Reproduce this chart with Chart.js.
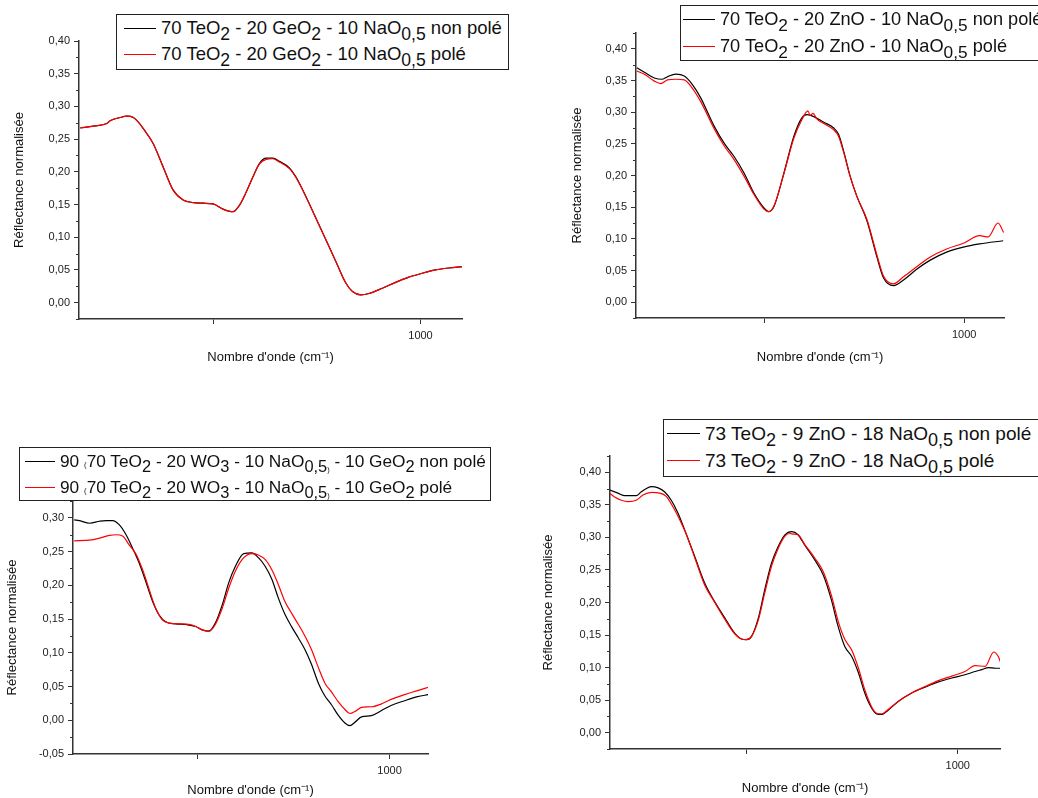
<!DOCTYPE html>
<html lang="fr">
<head>
<meta charset="utf-8">
<title>Réflectance normalisée</title>
<script src="https://cdn.jsdelivr.net/npm/chart.js@4.4.1/dist/chart.umd.min.js"></script>
<style>
  html, body { margin: 0; padding: 0; background: #fff; }
  body { width: 1038px; height: 798px; position: relative; overflow: hidden;
         font-family: "Liberation Sans", Arial, sans-serif; }
  canvas { position: absolute; }
  .legende { position: absolute; background: #fff; border: 1px solid #222; box-sizing: border-box;
             z-index: 2; color: #111; white-space: nowrap; }
  .legende .ligne { display: flex; align-items: center; }
  .legende .trait { height: 0; border-top: 1.3px solid; margin-right: 5px; flex: none; }
  .legende sub { font-size: 0.95em; vertical-align: -0.32em; line-height: 0; }
  .legende .pt { font-size: 0.45em; }
</style>
</head>
<body>
<canvas id="g1" width="480" height="380"></canvas>
<canvas id="g2" width="518" height="380"></canvas>
<canvas id="g3" width="450" height="378"></canvas>
<canvas id="g4" width="518" height="388"></canvas>
<script>
// nombres d'onde (cm-1) et réflectances
const p1Wn = [180,212,244,252,276,292,308,320,332,356,380,404,428,452,476,500,524,548,564,580,596,612,628,644,660,684,700,724,748,772,796,820,836,856,876,908,940,972,1004,1036,1068,1100];
const p1NonPole = [0.267,0.270,0.274,0.278,0.283,0.285,0.283,0.276,0.266,0.243,0.207,0.172,0.157,0.153,0.152,0.151,0.143,0.139,0.149,0.169,0.192,0.213,0.221,0.221,0.216,0.206,0.192,0.162,0.129,0.096,0.063,0.030,0.017,0.012,0.014,0.022,0.031,0.039,0.045,0.050,0.053,0.055];
const p1Pole = [0.267,0.270,0.274,0.278,0.283,0.285,0.283,0.276,0.266,0.243,0.207,0.172,0.157,0.153,0.152,0.151,0.143,0.139,0.149,0.169,0.192,0.212,0.219,0.220,0.215,0.205,0.191,0.162,0.129,0.096,0.063,0.030,0.017,0.012,0.014,0.022,0.031,0.039,0.045,0.050,0.053,0.055];

const p2WnNonPole = [179,198,223,243,256,277,298,318,339,373,398,423,448,473,498,510,523,548,573,593,606,623,648,673,685,698,714,731,756,781,798,823,848,881,914,956,998,1039,1098];
const p2NonPole = [0.370,0.363,0.354,0.352,0.356,0.360,0.357,0.344,0.323,0.278,0.251,0.230,0.204,0.172,0.149,0.143,0.151,0.204,0.262,0.291,0.296,0.293,0.284,0.275,0.265,0.238,0.199,0.167,0.129,0.072,0.038,0.026,0.035,0.052,0.066,0.079,0.087,0.092,0.097];
const p2WnPole = [179,198,223,239,256,277,298,318,339,373,398,423,448,473,498,510,523,548,573,593,608,614,621,631,648,673,685,698,714,731,756,781,798,823,848,881,914,956,998,1039,1060,1085,1099];
const p2Pole = [0.365,0.360,0.349,0.345,0.351,0.352,0.351,0.338,0.317,0.274,0.247,0.225,0.199,0.170,0.147,0.143,0.152,0.203,0.259,0.288,0.302,0.295,0.298,0.289,0.282,0.272,0.262,0.236,0.199,0.167,0.131,0.075,0.041,0.029,0.040,0.056,0.071,0.084,0.093,0.105,0.103,0.125,0.110];

const p3WnNonPole = [180,194,220,246,263,280,297,315,332,349,366,384,401,418,444,470,496,513,530,547,565,582,599,621,642,659,677,694,711,728,746,763,780,797,815,832,849,866,884,897,910,927,953,978,1004,1039,1073,1101];
const p3NonPole = [0.297,0.296,0.292,0.295,0.296,0.296,0.290,0.275,0.255,0.233,0.206,0.176,0.156,0.146,0.143,0.142,0.139,0.134,0.132,0.144,0.171,0.204,0.228,0.247,0.248,0.241,0.228,0.209,0.181,0.157,0.138,0.122,0.105,0.083,0.055,0.036,0.023,0.008,-0.004,-0.008,-0.003,0.005,0.007,0.014,0.022,0.029,0.035,0.038];
const p3WnPole = [180,220,246,272,289,306,323,341,358,375,392,409,427,453,478,496,513,530,547,565,582,599,621,642,659,677,694,711,728,746,763,780,797,815,832,849,866,884,897,910,927,953,978,1004,1039,1073,1101];
const p3Pole = [0.266,0.267,0.270,0.274,0.275,0.273,0.260,0.246,0.223,0.194,0.166,0.149,0.144,0.143,0.142,0.139,0.134,0.132,0.142,0.166,0.196,0.221,0.241,0.247,0.245,0.238,0.223,0.201,0.176,0.158,0.142,0.125,0.105,0.078,0.055,0.042,0.028,0.016,0.010,0.013,0.019,0.020,0.024,0.031,0.038,0.044,0.049];

const p4WnNonPole = [176,196,212,239,251,275,291,306,322,338,354,378,401,425,449,472,488,500,512,528,543,559,575,591,607,622,638,662,682,701,717,733,749,765,780,796,808,820,836,859,891,923,954,986,1017,1041,1057,1073,1089,1102];
const p4NonPole = [0.373,0.368,0.364,0.364,0.370,0.378,0.376,0.370,0.357,0.337,0.311,0.270,0.230,0.201,0.176,0.153,0.144,0.143,0.148,0.176,0.219,0.260,0.286,0.304,0.309,0.304,0.288,0.265,0.242,0.204,0.163,0.132,0.117,0.092,0.061,0.038,0.029,0.028,0.035,0.048,0.061,0.070,0.078,0.084,0.089,0.094,0.097,0.100,0.099,0.099];
const p4WnPole = [176,188,204,220,239,255,275,295,310,326,342,358,378,401,425,449,472,488,500,512,528,543,559,575,591,603,611,622,638,662,682,701,717,733,749,765,780,796,808,820,836,859,891,923,954,986,1017,1041,1065,1085,1096,1102];
const p4Pole = [0.368,0.362,0.357,0.355,0.357,0.365,0.369,0.368,0.363,0.347,0.327,0.304,0.268,0.227,0.200,0.174,0.152,0.144,0.143,0.148,0.173,0.214,0.255,0.283,0.302,0.306,0.305,0.304,0.289,0.268,0.247,0.211,0.171,0.143,0.127,0.099,0.066,0.040,0.030,0.029,0.036,0.048,0.061,0.071,0.080,0.087,0.094,0.103,0.102,0.124,0.117,0.107];

// légendes
const p1Legende = ['70 TeO<sub>2</sub> - 20 GeO<sub>2</sub> - 10 NaO<sub>0,5</sub> non polé',
                   '70 TeO<sub>2</sub> - 20 GeO<sub>2</sub> - 10 NaO<sub>0,5</sub> polé'];
const p2Legende = ['70 TeO<sub>2</sub> - 20 ZnO - 10 NaO<sub>0,5</sub> non polé',
                   '70 TeO<sub>2</sub> - 20 ZnO - 10 NaO<sub>0,5</sub> polé'];
const p3Legende = ['90 <span class="pt">(</span>70 TeO<sub>2</sub> - 20 WO<sub>3</sub> - 10 NaO<sub>0,5<span class="pt">)</span></sub> - 10 GeO<sub>2</sub> non polé',
                   '90 <span class="pt">(</span>70 TeO<sub>2</sub> - 20 WO<sub>3</sub> - 10 NaO<sub>0,5<span class="pt">)</span></sub> - 10 GeO<sub>2</sub> polé'];
const p4Legende = ['73 TeO<sub>2</sub> - 9 ZnO - 18 NaO<sub>0,5</sub> non polé',
                   '73 TeO<sub>2</sub> - 9 ZnO - 18 NaO<sub>0,5</sub> polé'];

const titreX = "Nombre d'onde (cm\u207B\u00B9)";
const titreY = "Réflectance normalisée";
const graduationsX = [500, 1000];
const etiquettesX = [1000];

const COULEUR_AXE = "#333";
const NOIR = "#000000";
const ROUGE = "#ff0000";

Chart.defaults.font.family = '"Liberation Sans", Arial, sans-serif';
Chart.defaults.color = "#222";

const panneaux = [
  { id: "g1", wn: [p1Wn, p1Wn], val: [p1NonPole, p1Pole], legende: p1Legende, yMin: -0.025, yMax: 0.40,
    pos: [0, 0], yW: 79, padTop: 41, padRight: 18, xH: 61, yTitrePad: 12, xTitrePad: 15,
    leg: { left: 116, top: 14, width: 393, height: 56, padLeft: 7, trait: 32, ligne: 26, police: 18.5 } },
  { id: "g2", wn: [p2WnNonPole, p2WnPole], val: [p2NonPole, p2Pole], legende: p2Legende, yMin: -0.025, yMax: 0.425,
    pos: [520, 0], yW: 116, padTop: 33, padRight: 34, xH: 62, yTitrePad: 50, xTitrePad: 15,
    leg: { left: 680, top: 5, width: 400, height: 56, padLeft: 2, trait: 32, ligne: 27, police: 18.2 } },
  { id: "g3", wn: [p3WnNonPole, p3WnPole], val: [p3NonPole, p3Pole], legende: p3Legende, yMin: -0.05, yMax: 0.325,
    pos: [0, 420], yW: 73, padTop: 81, padRight: 22, xH: 44, yTitrePad: 5, xTitrePad: 0,
    leg: { left: 19, top: 447, width: 472, height: 54, padLeft: 5, trait: 30, ligne: 26, police: 17.3 } },
  { id: "g4", wn: [p4WnNonPole, p4WnPole], val: [p4NonPole, p4Pole], legende: p4Legende, yMin: -0.025, yMax: 0.425,
    pos: [520, 410], yW: 90, padTop: 46, padRight: 38, xH: 49, yTitrePad: 21, xTitrePad: 2,
    leg: { left: 663, top: 419, width: 376, height: 58, padLeft: 3, trait: 33, ligne: 27, police: 19 } }
];

// petites graduations de l'axe Y (tous les 0,025)
const petitesGraduations = {
  id: "petitesGraduations",
  afterDraw(chart) {
    const y = chart.scales.y;
    const ctx = chart.ctx;
    const premier = Math.ceil(y.min / 0.025 - 1e-6);
    const dernier = Math.floor(y.max / 0.025 + 1e-6);
    ctx.save();
    ctx.strokeStyle = COULEUR_AXE;
    ctx.lineWidth = 1;
    for (let k = premier; k <= dernier; k++) {
      if (k % 2 === 0) continue;
      const py = Math.round(y.getPixelForValue(k * 0.025)) + 0.5;
      ctx.beginPath();
      ctx.moveTo(y.right - 3, py);
      ctx.lineTo(y.right, py);
      ctx.stroke();
    }
    ctx.restore();
  }
};

function serie(xs, ys) {
  return xs.map((x, i) => ({ x: x, y: ys[i] }));
}

function graduationsY(min, max) {
  const t = [];
  for (let k = Math.ceil(min / 0.05 - 1e-6); k <= Math.floor(max / 0.05 + 1e-6); k++) {
    t.push({ value: Math.round(k * 5) / 100 });
  }
  return t;
}

function construireLegende(chart, p) {
  const div = document.createElement("div");
  div.className = "legende";
  div.style.left = p.leg.left + "px";
  div.style.top = p.leg.top + "px";
  div.style.width = p.leg.width + "px";
  div.style.height = p.leg.height + "px";
  div.style.paddingLeft = p.leg.padLeft + "px";
  div.style.fontSize = p.leg.police + "px";
  chart.data.datasets.forEach((ds, i) => {
    const ligne = document.createElement("div");
    ligne.className = "ligne";
    ligne.style.height = p.leg.ligne + "px";
    const trait = document.createElement("span");
    trait.className = "trait";
    trait.style.width = p.leg.trait + "px";
    trait.style.borderTopColor = ds.borderColor;
    const texte = document.createElement("span");
    texte.innerHTML = p.legende[i];
    ligne.appendChild(trait);
    ligne.appendChild(texte);
    div.appendChild(ligne);
  });
  document.body.appendChild(div);
}

function virgule(v) {
  return v.toFixed(2).replace(".", ",");
}

panneaux.forEach(p => {
  const canvas = document.getElementById(p.id);
  canvas.style.left = p.pos[0] + "px";
  canvas.style.top = p.pos[1] + "px";

  const chart = new Chart(canvas, {
    type: "line",
    data: {
      datasets: [
        { label: "non polé", data: serie(p.wn[0], p.val[0]), borderColor: NOIR, borderWidth: 1.2,
          pointRadius: 0, cubicInterpolationMode: "monotone", order: 1 },
        { label: "polé", data: serie(p.wn[1], p.val[1]), borderColor: ROUGE, borderWidth: 1.2,
          pointRadius: 0, cubicInterpolationMode: "monotone", order: 0 }
      ]
    },
    options: {
      responsive: false,
      animation: false,
      events: [],
      layout: { padding: { top: p.padTop, right: p.padRight, left: 0, bottom: 0 } },
      plugins: { legend: { display: false }, tooltip: { enabled: false } },
      scales: {
        x: {
          type: "linear",
          min: 177,
          max: 1100,
          afterFit: s => { s.height = p.xH; },
          afterBuildTicks: s => { s.ticks = graduationsX.map(v => ({ value: v })); },
          border: { color: COULEUR_AXE, width: 1.5 },
          grid: { drawOnChartArea: false, tickLength: 5, color: COULEUR_AXE, tickColor: COULEUR_AXE, tickWidth: 1 },
          ticks: {
            autoSkip: false,
            maxRotation: 0,
            padding: 5,
            font: { size: 11 },
            color: "#222",
            callback: v => etiquettesX.includes(v) ? String(v) : ""
          },
          title: { display: true, text: titreX, font: { size: 13 }, color: "#111",
                   padding: { top: 0, bottom: p.xTitrePad } }
        },
        y: {
          min: p.yMin,
          max: p.yMax,
          afterFit: s => { s.width = p.yW; },
          afterBuildTicks: s => { s.ticks = graduationsY(p.yMin, p.yMax); },
          border: { color: COULEUR_AXE, width: 1.5 },
          grid: { drawOnChartArea: false, tickLength: 5, color: COULEUR_AXE, tickColor: COULEUR_AXE, tickWidth: 1 },
          ticks: {
            autoSkip: false,
            padding: 4,
            font: { size: 11 },
            color: "#222",
            callback: v => virgule(v)
          },
          title: { display: true, text: titreY, font: { size: 13 }, color: "#111",
                   padding: { top: p.yTitrePad, bottom: 0 } }
        }
      }
    },
    plugins: [petitesGraduations]
  });

  construireLegende(chart, p);
});
</script>
</body>
</html>
